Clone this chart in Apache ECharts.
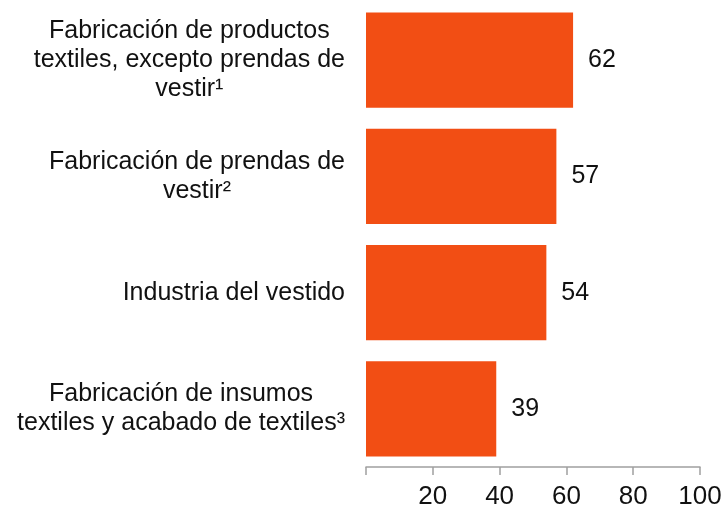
<!DOCTYPE html>
<html>
<head>
<meta charset="utf-8">
<script src="https://cdn.jsdelivr.net/npm/echarts@6/dist/echarts.min.js"></script>
<style>html,body{margin:0;padding:0;background:#fff;}#c{width:728px;height:510px;}</style>
</head>
<body>
<div id="c"></div>
<script>
const categories = [
  'Fabricación de productos\ntextiles, excepto prendas de\nvestir¹',
  'Fabricación de prendas de\nvestir²',
  'Industria del vestido',
  'Fabricación de insumos\ntextiles y acabado de textiles³'
];
const values = [62, 57, 54, 39];
const xTicks = [0, 20, 40, 60, 80, 100];

const FONT = 'Liberation Sans, Arial, sans-serif';
const chart = echarts.init(document.getElementById('c'));
chart.setOption({
  animation: false,
  textStyle: { fontFamily: FONT },
  grid: { left: 366, right: 28, top: 2, bottom: 42 },
  xAxis: {
    type: 'value',
    min: xTicks[0], max: xTicks[xTicks.length - 1], interval: 20,
    axisLine: { show: true, lineStyle: { color: '#a0a0a0', width: 1.5 } },
    axisTick: { show: true, length: 8, lineStyle: { color: '#a0a0a0', width: 1.5 } },
    splitLine: { show: false },
    axisLabel: {
      margin: 17, fontSize: 26, color: '#111', fontFamily: FONT,
      formatter: v => v === 0 ? '' : String(v)
    }
  },
  yAxis: {
    type: 'category', inverse: true, data: categories,
    axisLine: { show: false }, axisTick: { show: false },
    axisLabel: {
      margin: 21, align: 'right', color: '#111',
      formatter: v => v.split('\n').map(l => '{c|' + l + '}').join('\n'),
      rich: { c: { align: 'center', fontSize: 25, lineHeight: 29, color: '#111', fontFamily: FONT } }
    }
  },
  series: [{
    type: 'bar', data: values, barCategoryGap: '18%',
    itemStyle: { color: '#F24E14' },
    label: { show: true, position: 'right', distance: 15, fontSize: 25, color: '#111', fontFamily: FONT }
  }]
});
</script>
</body>
</html>
